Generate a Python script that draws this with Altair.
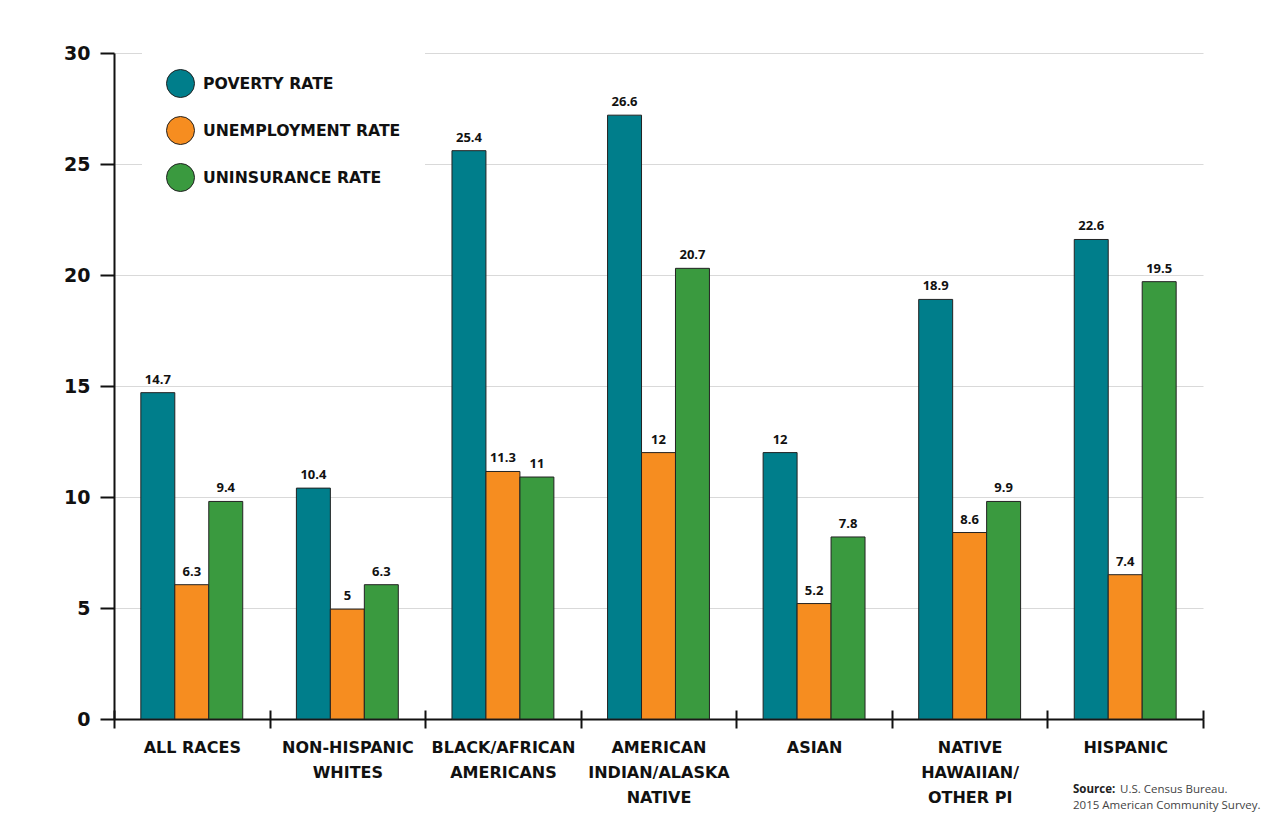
import altair as alt
import pandas as pd

categories = ["ALL RACES", "NON-HISPANIC|WHITES", "BLACK/AFRICAN|AMERICANS",
              "AMERICAN|INDIAN/ALASKA|NATIVE", "ASIAN", "NATIVE|HAWAIIAN/|OTHER PI", "HISPANIC"]
series = ["POVERTY RATE", "UNEMPLOYMENT RATE", "UNINSURANCE RATE"]
colors = ["#007E8B", "#F68D20", "#3A9A3F"]

# bar heights as drawn in the picture
poverty = [14.7, 10.4, 25.6, 27.2, 12.0, 18.9, 21.6]
unemployment = [6.05, 4.95, 11.15, 12.0, 5.2, 8.4, 6.5]
uninsurance = [9.8, 6.05, 10.9, 20.3, 8.2, 9.8, 19.7]

# value labels as printed
poverty_lbl = ["14.7", "10.4", "25.4", "26.6", "12", "18.9", "22.6"]
unemployment_lbl = ["6.3", "5", "11.3", "12", "5.2", "8.6", "7.4"]
uninsurance_lbl = ["9.4", "6.3", "11", "20.7", "7.8", "9.9", "19.5"]

y_ticks = [0, 5, 10, 15, 20, 25, 30]

rows = []
for vals, lbls, s in [(poverty, poverty_lbl, series[0]),
                      (unemployment, unemployment_lbl, series[1]),
                      (uninsurance, uninsurance_lbl, series[2])]:
    for c, v, l in zip(categories, vals, lbls):
        rows.append({"category": c, "series": s, "value": v, "label": l})
df = pd.DataFrame(rows)

BOLD_FONT = "DejaVu Sans"
FONT = "Open Sans"

x_scale = alt.Scale(domain=categories, paddingInner=0, paddingOuter=0)
xo_scale = alt.Scale(domain=series, paddingInner=0, paddingOuter=0.79)
y_scale = alt.Scale(domain=[0, 30], nice=False)

y_axis = alt.Axis(values=y_ticks, title=None, domainColor="#111", domainWidth=2,
                  tickColor="#111", tickWidth=2, tickSize=14, labelPadding=10,
                  labelFont=BOLD_FONT, labelFontSize=19, labelFontWeight="bold",
                  labelColor="#111", grid=True, gridColor="#d9d9d9", gridWidth=1)

bars = alt.Chart(df).mark_bar(stroke="#222", strokeWidth=1).encode(
    x=alt.X("category:N", scale=x_scale, sort=categories, title=None,
            axis=alt.Axis(orient="bottom", tickBand="extent", domainColor="#111",
                          domainWidth=2, tickColor="#111", tickWidth=2, tickSize=9,
                          labelPadding=11, labelAngle=0, labelFont=BOLD_FONT,
                          labelFontSize=16, labelFontWeight="bold", labelColor="#111",
                          labelLineHeight=25, labelLimit=200,
                          labelExpr="split(datum.label, '|')", grid=False)),
    xOffset=alt.XOffset("series:N", scale=xo_scale, sort=series),
    y=alt.Y("value:Q", scale=y_scale, axis=y_axis),
    color=alt.Color("series:N", sort=series,
                    scale=alt.Scale(domain=series, range=colors),
                    legend=alt.Legend(title=None, orient="none", legendX=28, legendY=-8,
                                      padding=24, fillColor="white", symbolType="circle",
                                      symbolSize=784, symbolStrokeColor="#222",
                                      symbolStrokeWidth=1, symbolOpacity=1,
                                      labelFont=BOLD_FONT, labelFontSize=15.7,
                                      labelFontWeight="bold", labelColor="#111",
                                      labelOffset=8, rowPadding=14, labelLimit=400)),
)

labels = alt.Chart(df).mark_text(font=FONT, fontSize=13, fontWeight="bold",
                                 color="#111", baseline="alphabetic", dy=-9).encode(
    x=alt.X("category:N", scale=x_scale, sort=categories, title=None,
            axis=alt.Axis(orient="bottom", tickBand="extent", domain=False,
                          labels=False, grid=False, tickColor="#111", tickWidth=2,
                          tickSize=9, offset=-9)),
    xOffset=alt.XOffset("series:N", scale=xo_scale, sort=series),
    y=alt.Y("value:Q", scale=y_scale, axis=y_axis),
    text="label:N",
)

src_df = pd.DataFrame({"a": [0]})
src1 = alt.Chart(src_df).mark_text(text="Source:", font=FONT, fontSize=11.5,
                                   fontWeight="bold", color="#222", align="left",
                                   baseline="alphabetic").encode(
    x=alt.value(959), y=alt.value(740))
src2 = alt.Chart(src_df).mark_text(text="U.S. Census Bureau.", font=FONT, fontSize=11.5,
                                   color="#444", align="left",
                                   baseline="alphabetic").encode(
    x=alt.value(1006), y=alt.value(740))
src3 = alt.Chart(src_df).mark_text(text="2015 American Community Survey.", font=FONT,
                                   fontSize=11.5, color="#444", align="left",
                                   baseline="alphabetic").encode(
    x=alt.value(959), y=alt.value(756))

chart = alt.layer(bars, labels, src1, src2, src3).resolve_axis(
    x="independent"
).properties(
    width=1089, height=666,
    autosize=alt.AutoSizeParams(type="none"),
    padding={"left": 106, "top": 45, "right": 60, "bottom": 100},
    background="white",
).configure_view(strokeWidth=0)

chart.save("out.html", embed_options={"renderer": "svg", "actions": False})
